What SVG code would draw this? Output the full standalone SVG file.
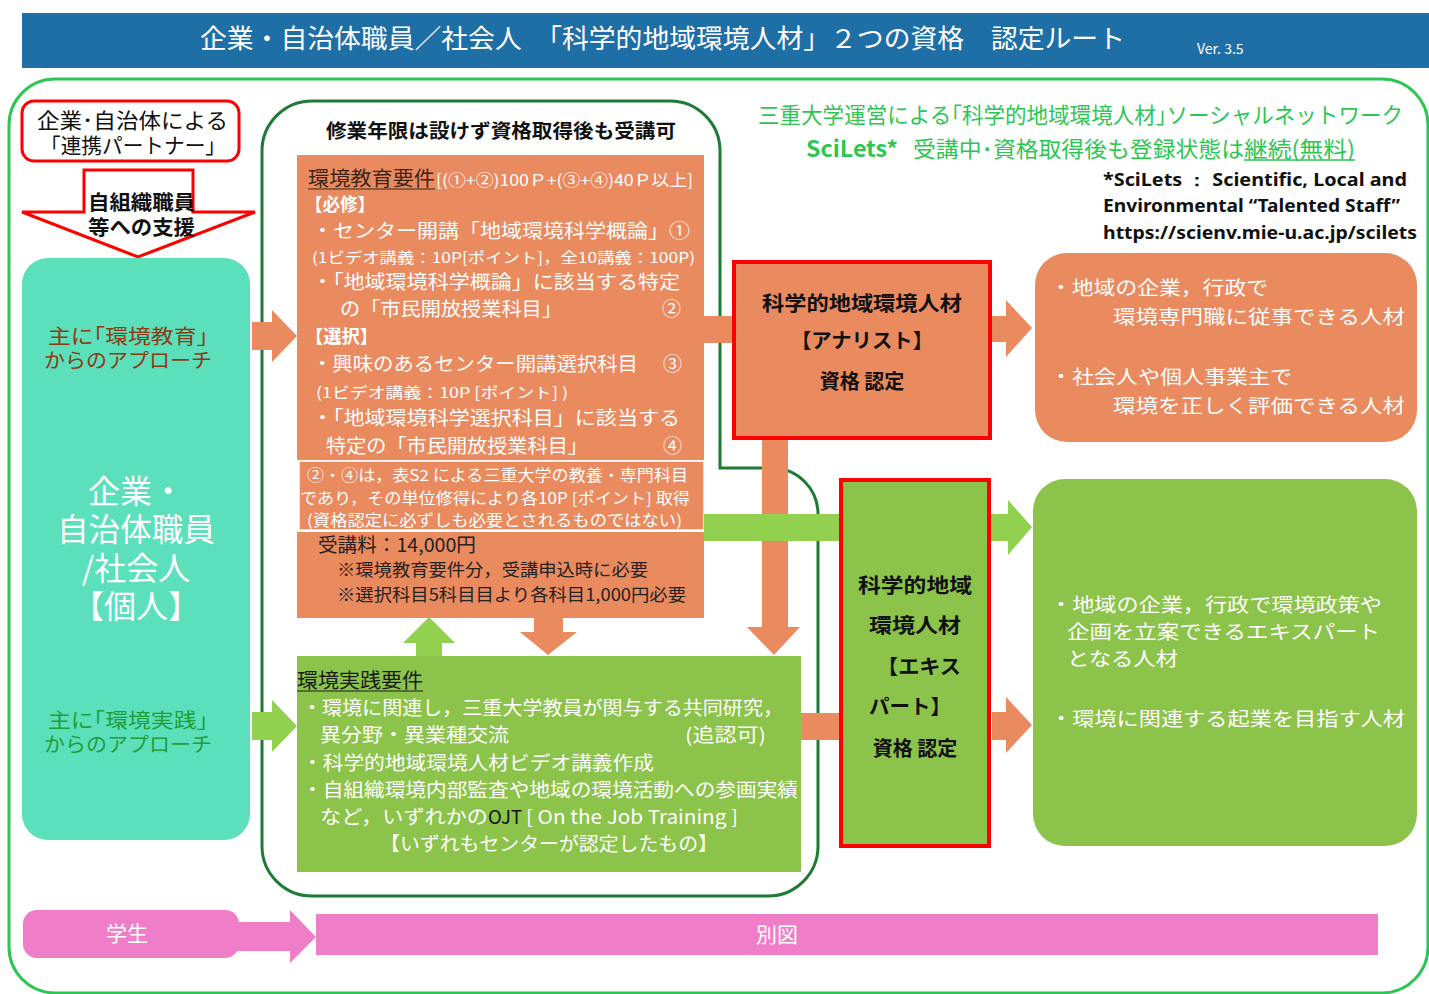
<svg xmlns="http://www.w3.org/2000/svg" width="1429" height="994" viewBox="0 0 1429 994">
<style>
text{font-family:"Noto Sans CJK JP","Noto Sans",sans-serif;}
.w{fill:#ffffff;}
.k{fill:#111111;}
.b{font-weight:bold;}
.or{fill:#E98A5F;}
.gr{fill:#8CC34B;}
.lg{fill:#92D050;}
.t19{font-size:19px;}
.t16{font-size:15.5px;}
.en{font-family:"Noto Sans","Open Sans",sans-serif;font-weight:bold;font-size:17px;fill:#111;}
</style>
<rect width="1429" height="994" fill="#ffffff"/>

<g id="header">
<rect x="22" y="13" width="1407" height="55" fill="#1F6FA7"/>
<text x="200" y="48" font-size="26" class="w" textLength="925" lengthAdjust="spacingAndGlyphs">企業・自治体職員／社会人　「科学的地域環境人材」２つの資格　認定ルート</text>
<text x="1197" y="54" font-size="14" class="w">Ver. 3.5</text>
</g>

<g id="frames" fill="none">
<rect x="9" y="79" width="1419" height="914" rx="46" stroke="#2DC653" stroke-width="3"/>
<path d="M 312,101 H 670 A 50 50 0 0 1 720,151 V 468 H 772 A 46 46 0 0 1 818,514 V 846 A 50 50 0 0 1 768,896 H 312 A 50 50 0 0 1 262,846 V 151 A 50 50 0 0 1 312,101 Z" stroke="#1E7B35" stroke-width="3"/>
</g>

<g id="scilets">
<text x="758" y="123" font-size="22" fill="#2DC653" textLength="645" lengthAdjust="spacingAndGlyphs">三重大学運営による｢科学的地域環境人材｣ソーシャルネットワーク</text>
<text x="806" y="157" font-size="22" fill="#2DC653" font-weight="bold" textLength="92" lengthAdjust="spacingAndGlyphs">SciLets*</text>
<text x="913" y="157" font-size="22" fill="#2DC653" textLength="331" lengthAdjust="spacingAndGlyphs">受講中･資格取得後も登録状態は</text>
<text x="1244" y="157" font-size="22" fill="#2DC653" textLength="111" lengthAdjust="spacingAndGlyphs">継続(無料)</text>
<line x1="1244" y1="160" x2="1355" y2="160" stroke="#2DC653" stroke-width="1.5"/>
<text x="1103" y="186" class="en" textLength="304" lengthAdjust="spacingAndGlyphs">*SciLets ：  Scientific, Local and</text>
<text x="1103" y="212" class="en" textLength="297" lengthAdjust="spacingAndGlyphs">Environmental “Talented Staff”</text>
<text x="1103" y="239" class="en" textLength="314" lengthAdjust="spacingAndGlyphs">https://scienv.mie-u.ac.jp/scilets</text>
</g>

<g id="partner">
<rect x="22" y="101" width="217" height="60" rx="12" fill="#ffffff" stroke="#FF0000" stroke-width="3"/>
<text x="37" y="128" font-size="21" class="k" textLength="191" lengthAdjust="spacingAndGlyphs">企業･自治体による</text>
<text x="40" y="153" font-size="21" class="k" textLength="186" lengthAdjust="spacingAndGlyphs">「連携パートナー」</text>
</g>

<g id="support">
<path d="M 84,170 H 193 V 212 H 255 L 138,257 L 22,212 H 84 Z" fill="#ffffff" stroke="#FF0000" stroke-width="3"/>
<text x="88" y="210" font-size="20" class="k b" textLength="107" lengthAdjust="spacingAndGlyphs">自組織職員</text>
<text x="88" y="235" font-size="20" class="k b" textLength="107" lengthAdjust="spacingAndGlyphs">等への支援</text>
</g>

<g id="individual">
<rect x="22" y="258" width="228" height="582" rx="26" fill="#5CE0BC"/>
<text x="48" y="344" font-size="20" fill="#8B3A12" textLength="160" lengthAdjust="spacingAndGlyphs">主に｢環境教育｣</text>
<text x="44" y="368" font-size="20" fill="#8B3A12" textLength="168" lengthAdjust="spacingAndGlyphs">からのアプローチ</text>
<text x="136" y="503" font-size="32" class="w" text-anchor="middle">企業・</text>
<text x="136" y="541" font-size="32" class="w" text-anchor="middle" textLength="158" lengthAdjust="spacingAndGlyphs">自治体職員</text>
<text x="136" y="580" font-size="32" class="w" text-anchor="middle">/社会人</text>
<text x="136" y="618" font-size="32" class="w" text-anchor="middle">【個人】</text>
<text x="48" y="728" font-size="20" fill="#1E9E3A" textLength="160" lengthAdjust="spacingAndGlyphs">主に｢環境実践｣</text>
<text x="44" y="752" font-size="20" fill="#1E9E3A" textLength="168" lengthAdjust="spacingAndGlyphs">からのアプローチ</text>
</g>

<g id="no-limit">
<text x="326" y="138" font-size="19" class="k b" textLength="350" lengthAdjust="spacingAndGlyphs">修業年限は設けず資格取得後も受講可</text>
</g>

<g id="education">
<rect x="297" y="155" width="407" height="305" class="or"/>
<text x="308" y="186" font-size="20" fill="#3A2518" textLength="127" lengthAdjust="spacingAndGlyphs">環境教育要件</text>
<line x1="308" y1="189" x2="435" y2="189" stroke="#3A2518" stroke-width="1.2"/>
<text x="436" y="186" font-size="16" class="w" textLength="257" lengthAdjust="spacingAndGlyphs">[(①+②)100Ｐ+(③+④)40Ｐ以上]</text>
<text x="305" y="211" font-size="18" class="w b" textLength="70" lengthAdjust="spacingAndGlyphs">【必修】</text>
<text x="312" y="238" class="w t19" textLength="378" lengthAdjust="spacingAndGlyphs">・センター開講「地域環境科学概論」①</text>
<text x="312" y="263" font-size="15" class="w" textLength="383" lengthAdjust="spacingAndGlyphs">(1ビデオ講義：10P[ポイント]，全10講義：100P)</text>
<text x="312" y="289" class="w t19" textLength="368" lengthAdjust="spacingAndGlyphs">・「地域環境科学概論」に該当する特定</text>
<text x="340" y="316" class="w t19" textLength="222" lengthAdjust="spacingAndGlyphs">の「市民開放授業科目」</text>
<text x="662" y="316" class="w t19">②</text>
<text x="305" y="343" font-size="18" class="w b" textLength="73" lengthAdjust="spacingAndGlyphs">【選択】</text>
<text x="312" y="371" class="w t19" textLength="326" lengthAdjust="spacingAndGlyphs">・興味のあるセンター開講選択科目</text>
<text x="663" y="371" class="w t19">③</text>
<text x="316" y="398" font-size="15" class="w" textLength="252" lengthAdjust="spacingAndGlyphs">(1ビデオ講義：10P [ポイント] )</text>
<text x="312" y="425" class="w t19" textLength="368" lengthAdjust="spacingAndGlyphs">・「地域環境科学選択科目」に該当する</text>
<text x="326" y="453" class="w t19" textLength="262" lengthAdjust="spacingAndGlyphs">特定の「市民開放授業科目」</text>
<text x="663" y="453" class="w t19">④</text>
</g>

<g id="note">
<rect x="299" y="461" width="405" height="69" class="or" stroke="#ffffff" stroke-width="1.5"/>
<text x="307" y="481" class="w t16" textLength="381" lengthAdjust="spacingAndGlyphs">②・④は，表S2 による三重大学の教養・専門科目</text>
<text x="300" y="504" class="w t16" textLength="390" lengthAdjust="spacingAndGlyphs">であり，その単位修得により各10P [ポイント] 取得</text>
<text x="307" y="526" class="w t16" textLength="375" lengthAdjust="spacingAndGlyphs">(資格認定に必ずしも必要とされるものではない)</text>
</g>

<g id="fee">
<rect x="297" y="532" width="407" height="86" class="or"/>
<text x="318" y="552" font-size="19" fill="#222" textLength="158" lengthAdjust="spacingAndGlyphs">受講料：14,000円</text>
<text x="337" y="576" font-size="17" fill="#222" textLength="311" lengthAdjust="spacingAndGlyphs">※環境教育要件分，受講申込時に必要</text>
<text x="337" y="601" font-size="17" fill="#222" textLength="349" lengthAdjust="spacingAndGlyphs">※選択科目5科目目より各科目1,000円必要</text>
</g>

<g id="practice">
<rect x="297" y="656" width="504" height="216" class="gr"/>
<text x="297" y="688" font-size="20" fill="#1A1A1A" textLength="126" lengthAdjust="spacingAndGlyphs">環境実践要件</text>
<line x1="297" y1="691" x2="423" y2="691" stroke="#1A1A1A" stroke-width="1.2"/>
<text x="302" y="715" class="w t19" textLength="481" lengthAdjust="spacingAndGlyphs">・環境に関連し，三重大学教員が関与する共同研究，</text>
<text x="320" y="742" class="w t19" textLength="189" lengthAdjust="spacingAndGlyphs">異分野・異業種交流</text>
<text x="685" y="742" class="w t19" textLength="81" lengthAdjust="spacingAndGlyphs">(追認可)</text>
<text x="302" y="770" class="w t19" textLength="352" lengthAdjust="spacingAndGlyphs">・科学的地域環境人材ビデオ講義作成</text>
<text x="302" y="797" class="w t19" textLength="496" lengthAdjust="spacingAndGlyphs">・自組織環境内部監査や地域の環境活動への参画実績</text>
<text x="320" y="824" class="w t19" textLength="168" lengthAdjust="spacingAndGlyphs">など，いずれかの</text>
<text x="488" y="824" font-size="19" fill="#111" textLength="34" lengthAdjust="spacingAndGlyphs">OJT</text>
<text x="526" y="824" class="w t19" textLength="212" lengthAdjust="spacingAndGlyphs">[ On the Job Training ]</text>
<text x="380" y="851" class="w t19" textLength="338" lengthAdjust="spacingAndGlyphs">【いずれもセンターが認定したもの】</text>
</g>

<g id="connectors">
<path d="M 252,322 H 272 V 310 L 297,336 L 272,362 V 350 H 252 Z" class="or"/>
<path d="M 252,712 H 272 V 700 L 297,726 L 272,752 V 740 H 252 Z" class="lg"/>
<path d="M 416,656 V 643 H 403 L 429,617 L 455,643 H 442 V 656 Z" class="lg"/>
<path d="M 534,618 H 563 V 632 H 577 L 548,655 L 520,632 H 534 Z" class="or"/>
<rect x="704" y="316" width="31" height="27" class="or"/>
<path d="M 762,438 H 788 V 627 H 800 L 774,655 L 747,627 H 762 Z" class="or"/>
<path d="M 704,514 H 1008 V 500 L 1032,527 L 1008,555 V 541 H 704 Z" class="lg"/>
<path d="M 992,316 H 1006 V 300 L 1032,328 L 1006,357 V 342 H 992 Z" class="or"/>
<rect x="801" y="713" width="41" height="27" class="or"/>
<path d="M 992,712 H 1006 V 697 L 1032,725 L 1006,753 V 740 H 992 Z" class="or"/>
<path d="M 237,922 H 290 V 910 L 316,937 L 290,963 V 951 H 237 Z" fill="#F07DC7"/>
</g>

<g id="analyst">
<rect x="734" y="262" width="256" height="176" class="or" stroke="#FF0000" stroke-width="4"/>
<text x="862" y="311" font-size="20" class="k b" text-anchor="middle" textLength="200" lengthAdjust="spacingAndGlyphs">科学的地域環境人材</text>
<text x="862" y="348" font-size="20" class="k b" text-anchor="middle" textLength="142" lengthAdjust="spacingAndGlyphs">【アナリスト】</text>
<text x="862" y="389" font-size="20" class="k b" text-anchor="middle">資格 認定</text>
</g>

<g id="analyst-roles">
<rect x="1035" y="253" width="382" height="189" rx="32" class="or"/>
<text x="1050" y="295" class="w t19" textLength="218" lengthAdjust="spacingAndGlyphs">・地域の企業，行政で</text>
<text x="1405" y="324" class="w t19" text-anchor="end" textLength="292" lengthAdjust="spacingAndGlyphs">環境専門職に従事できる人材</text>
<text x="1050" y="384" class="w t19" textLength="242" lengthAdjust="spacingAndGlyphs">・社会人や個人事業主で</text>
<text x="1405" y="413" class="w t19" text-anchor="end" textLength="292" lengthAdjust="spacingAndGlyphs">環境を正しく評価できる人材</text>
</g>

<g id="expert">
<rect x="841" y="480" width="148" height="366" class="gr" stroke="#FF0000" stroke-width="4"/>
<text x="915" y="593" font-size="20" class="k b" text-anchor="middle" textLength="114" lengthAdjust="spacingAndGlyphs">科学的地域</text>
<text x="915" y="633" font-size="20" class="k b" text-anchor="middle" textLength="92" lengthAdjust="spacingAndGlyphs">環境人材</text>
<text x="877" y="674" font-size="20" class="k b" textLength="84" lengthAdjust="spacingAndGlyphs">【エキス</text>
<text x="869" y="714" font-size="20" class="k b" textLength="82" lengthAdjust="spacingAndGlyphs">パート】</text>
<text x="915" y="756" font-size="20" class="k b" text-anchor="middle">資格 認定</text>
</g>

<g id="expert-roles">
<rect x="1033" y="479" width="384" height="367" rx="32" class="gr"/>
<text x="1050" y="612" class="w t19" textLength="332" lengthAdjust="spacingAndGlyphs">・地域の企業，行政で環境政策や</text>
<text x="1067" y="639" class="w t19" textLength="313" lengthAdjust="spacingAndGlyphs">企画を立案できるエキスパート</text>
<text x="1067" y="666" class="w t19" textLength="111" lengthAdjust="spacingAndGlyphs">となる人材</text>
<text x="1050" y="726" class="w t19" textLength="355" lengthAdjust="spacingAndGlyphs">・環境に関連する起業を目指す人材</text>
</g>

<g id="student">
<rect x="23" y="910" width="216" height="48" rx="14" fill="#F07DC7"/>
<text x="127" y="941" font-size="21" class="w" text-anchor="middle">学生</text>
</g>

<g id="separate-figure">
<rect x="316" y="914" width="1062" height="41" fill="#F07DC7"/>
<text x="777" y="942" font-size="21" class="w" text-anchor="middle">別図</text>
</g>
</svg>
